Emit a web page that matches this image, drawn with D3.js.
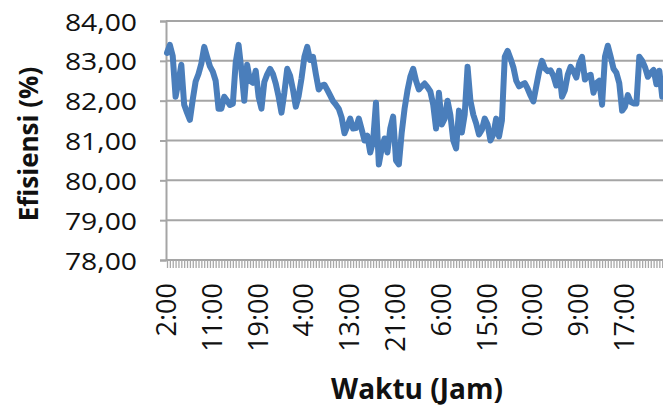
<!DOCTYPE html>
<html>
<head>
<meta charset="utf-8">
<script src="https://cdn.jsdelivr.net/npm/d3@7"></script>
<style>
html,body{margin:0;padding:0;background:#fff;overflow:hidden;}
svg{display:block;}
</style>
</head>
<body>
<svg id="chart" width="663" height="409"></svg>
<script>
const yTicks = [78, 79, 80, 81, 82, 83, 84];
const tickLabels = ["2:00","11:00","19:00","4:00","13:00","21:00","6:00","15:00","0:00","9:00","17:00"];
const labelStep = 16;
const efisiensi = [
83.20,83.40,83.12,82.10,82.47,82.90,81.90,81.70,81.52,82.03,
82.48,82.67,82.93,83.35,83.10,82.86,82.73,82.50,81.80,81.80,
82.10,82.00,81.89,81.92,82.95,83.40,82.77,82.00,82.90,82.50,
82.45,82.75,82.10,81.80,82.47,82.66,82.80,82.67,82.43,82.10,
81.70,82.20,82.80,82.63,82.28,81.85,82.12,82.56,83.10,83.35,
83.02,83.10,82.67,82.28,82.38,82.40,82.27,82.13,81.99,81.90,
81.80,81.58,81.18,81.36,81.55,81.30,81.31,81.55,81.28,81.00,
81.12,80.70,80.98,81.95,80.40,80.80,81.05,80.70,81.30,81.60,
80.50,80.40,81.20,81.80,82.25,82.60,82.80,82.50,82.28,82.36,
82.43,82.34,82.23,81.90,81.30,82.20,81.40,81.55,82.00,81.64,
81.00,80.80,81.75,81.20,81.65,82.85,82.00,81.65,81.43,81.15,
81.27,81.55,81.40,81.00,81.15,81.55,81.10,81.50,83.10,83.25,
83.06,82.84,82.50,82.36,82.40,82.44,82.30,82.13,81.98,82.36,
82.73,83.00,82.81,82.74,82.76,82.62,82.38,82.75,82.10,82.26,
82.65,82.85,82.74,82.58,82.93,83.10,82.53,82.62,82.65,82.20,
82.44,82.50,81.90,83.10,83.38,83.10,82.80,82.70,82.44,81.75,
81.85,82.14,81.97,81.93,81.93,83.10,83.00,82.84,82.60,82.70,
82.77,82.41,82.75,82.10
];

const svg = d3.select("#chart");
const plot = {left:166, right:663, top:21, bottom:260};
const x = d3.scaleLinear().domain([0, efisiensi.length - 1]).range([167, 662.2]);
const y = d3.scaleLinear().domain([78, 84]).range([plot.bottom, plot.top]);
const fmt = v => d3.format(".2f")(v).replace(".", ",");
const gridColor = "#a5a5a5";
const textColor = "#111";

// gridlines
svg.append("g").selectAll("line").data(yTicks.filter(d => d !== 78)).join("line")
  .attr("x1", plot.left).attr("x2", plot.right)
  .attr("y1", d => y(d)).attr("y2", d => y(d))
  .attr("stroke", gridColor).attr("stroke-width", 2);

// y axis
const yAxis = svg.append("g").attr("transform", `translate(${plot.left},0)`)
  .call(d3.axisLeft(y).tickValues(yTicks).tickSize(6).tickFormat(fmt));
yAxis.select(".domain").attr("stroke", gridColor).attr("stroke-width", 2);
yAxis.selectAll(".tick line").attr("stroke", gridColor).attr("stroke-width", 2);
yAxis.selectAll(".tick text")
  .attr("x", 0).attr("dy", null).attr("dominant-baseline", "central")
  .attr("text-anchor", "end")
  .attr("transform", "translate(-29,0) scale(1.18,1)")
  .attr("font-family", "'Open Sans', sans-serif").attr("font-size", 24)
  .attr("fill", textColor);

// x axis with one tick per category
const xAxis = svg.append("g").attr("transform", `translate(0,${plot.bottom})`)
  .call(d3.axisBottom(x).tickValues(d3.range(efisiensi.length)).tickSize(8).tickFormat(""));
xAxis.select(".domain").attr("stroke", gridColor).attr("stroke-width", 2).attr("d", `M${plot.left},0H${plot.right}`);
xAxis.selectAll(".tick line").attr("stroke", "#a8a8a8").attr("stroke-width", 1.3);

// x labels
svg.append("g").selectAll("text").data(tickLabels).join("text")
  .attr("transform", (d, i) => `translate(${x(i * labelStep) + 9},283) rotate(-90)`)
  .attr("text-anchor", "end")
  .attr("font-family", "'Open Sans', sans-serif").attr("font-size", 27)
  .attr("fill", textColor)
  .text(d => d);

// line
const line = d3.line().x((d, i) => x(i)).y(d => y(d));
svg.append("path").datum(efisiensi)
  .attr("d", line)
  .attr("fill", "none").attr("stroke", "#4a7ebb").attr("stroke-width", 6)
  .attr("stroke-linejoin", "round").attr("stroke-linecap", "round");

// axis titles
svg.append("text")
  .attr("transform", "translate(38,144) rotate(-90)")
  .attr("text-anchor", "middle")
  .attr("font-family", "'Open Sans', sans-serif").attr("font-weight", "bold").attr("font-size", 26)
  .attr("fill", textColor)
  .text("Efisiensi (%)");
svg.append("text")
  .attr("x", 417).attr("y", 399)
  .attr("text-anchor", "middle")
  .attr("font-family", "'Open Sans', sans-serif").attr("font-weight", "bold").attr("font-size", 28)
  .attr("fill", textColor)
  .text("Waktu (Jam)");
</script>
</body>
</html>
